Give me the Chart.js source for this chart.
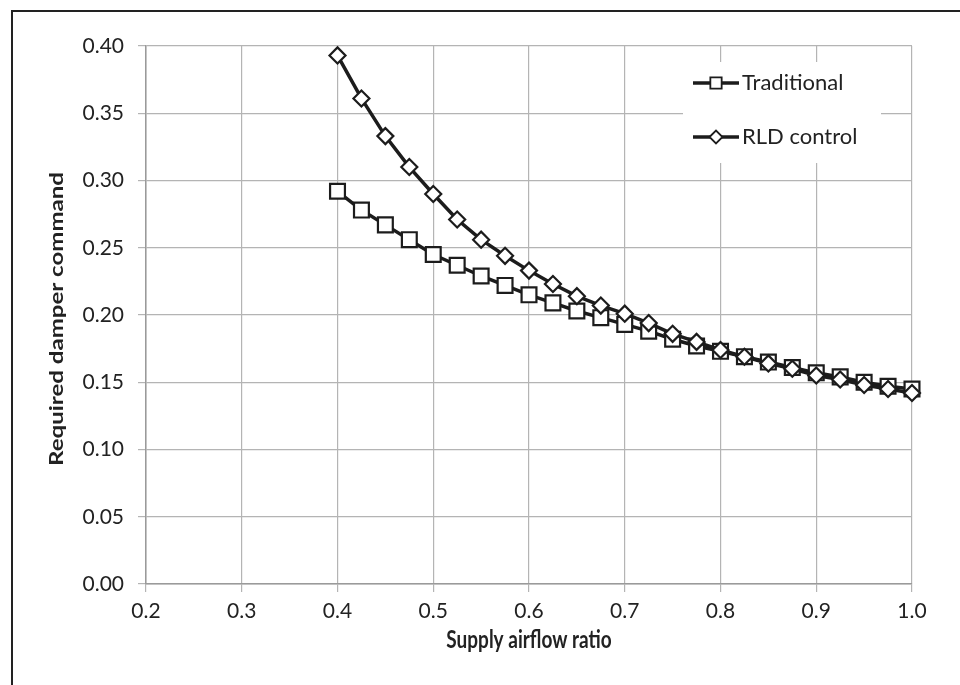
<!DOCTYPE html>
<html>
<head>
<meta charset="utf-8">
<script src="https://cdn.jsdelivr.net/npm/chart.js@4.4.1/dist/chart.umd.min.js"></script>
<style>
  html, body { margin: 0; padding: 0; background: #ffffff; }
  #wrap { width: 960px; height: 685px; position: relative; }
  canvas { display: block; }
</style>
</head>
<body>
<div id="wrap"><canvas id="c" width="960" height="685"></canvas></div>
<script>
// ---- Data ----
const airflowRatio = [0.4, 0.425, 0.45, 0.475, 0.5, 0.525, 0.55, 0.575, 0.6, 0.625, 0.65, 0.675, 0.7,
                      0.725, 0.75, 0.775, 0.8, 0.825, 0.85, 0.875, 0.9, 0.925, 0.95, 0.975, 1.0];
const traditional = [0.292, 0.278, 0.267, 0.256, 0.245, 0.237, 0.229, 0.222, 0.215, 0.209, 0.203, 0.198, 0.193,
                     0.188, 0.182, 0.177, 0.173, 0.169, 0.165, 0.161, 0.157, 0.154, 0.150, 0.147, 0.145];
const rldControl = [0.393, 0.361, 0.333, 0.310, 0.290, 0.271, 0.256, 0.244, 0.233, 0.223, 0.214, 0.207, 0.201,
                    0.194, 0.186, 0.180, 0.174, 0.169, 0.164, 0.160, 0.155, 0.152, 0.148, 0.145, 0.142];
const seriesNames = ["Traditional", "RLD control"];
const xTitle = "Supply airflow ratio";
const yTitle = "Required damper command";

const FONT = "Lato, 'Open Sans', sans-serif";
const INK = "#1c1c1c";
const GRID = "#b4b4b4";

function toPoints(xs, ys) { return xs.map((x, i) => ({ x: x, y: ys[i] })); }

const frame = {
  id: 'frame',
  beforeDraw(chart) {
    const ctx = chart.ctx;
    ctx.save();
    ctx.fillStyle = '#ffffff';
    ctx.fillRect(0, 0, chart.width, chart.height);
    ctx.strokeStyle = '#222222';
    ctx.lineWidth = 2;
    ctx.beginPath();
    ctx.moveTo(12, 700);
    ctx.lineTo(12, 11);
    ctx.lineTo(980, 11);
    ctx.stroke();
    ctx.restore();
  },
  afterDraw(chart) {
    const ctx = chart.ctx;
    const yScale = chart.scales.y;
    const xScale = chart.scales.x;
    // y-axis title, elongated along its length like the reference
    ctx.save();
    ctx.translate(57, (yScale.top + yScale.bottom) / 2 + 4);
    ctx.rotate(-Math.PI / 2);
    ctx.scale(1.3, 1);
    ctx.fillStyle = '#222222';
    ctx.font = "bold 18.5px " + FONT;
    ctx.textAlign = 'center';
    ctx.textBaseline = 'middle';
    ctx.fillText(yTitle, 0, 0);
    ctx.restore();
    // x-axis title, slightly taller glyphs like the reference
    ctx.save();
    ctx.translate((xScale.left + xScale.right) / 2, 640);
    ctx.scale(1, 1.3);
    ctx.fillStyle = '#222222';
    ctx.font = "bold 19px " + FONT;
    ctx.textAlign = 'center';
    ctx.textBaseline = 'middle';
    ctx.fillText(xTitle, 0, 0);
    ctx.restore();
  }
};

const insideLegend = {
  id: 'insideLegend',
  beforeDatasetsDraw(chart) {
    const ctx = chart.ctx;
    ctx.save();
    ctx.fillStyle = '#ffffff';
    ctx.fillRect(683, 62, 198, 101);
    const items = [
      { label: seriesNames[0], style: 'rect', r: 8, y: 83 },
      { label: seriesNames[1], style: 'rectRot', r: 6.5, y: 137 }
    ];
    items.forEach(it => {
      ctx.strokeStyle = INK;
      ctx.lineWidth = 3.5;
      ctx.beginPath();
      ctx.moveTo(693, it.y);
      ctx.lineTo(739, it.y);
      ctx.stroke();
      ctx.fillStyle = '#ffffff';
      ctx.strokeStyle = INK;
      ctx.lineWidth = 1.8;
      Chart.helpers.drawPoint(ctx, { pointStyle: it.style, radius: it.r, borderWidth: 1.8, rotation: 0 }, 716, it.y);
      ctx.fillStyle = '#222222';
      ctx.font = "22px " + FONT;
      ctx.textBaseline = 'middle';
      ctx.textAlign = 'left';
      ctx.fillText(it.label, 742, it.y);
    });
    ctx.restore();
  }
};

new Chart(document.getElementById('c'), {
  type: 'scatter',
  data: {
    datasets: [
      {
        label: seriesNames[0],
        data: toPoints(airflowRatio, traditional),
        showLine: true,
        clip: false,
        borderColor: INK,
        borderWidth: 3.5,
        pointStyle: 'rect',
        pointRadius: 10.5,
        pointHoverRadius: 10.5,
        pointBackgroundColor: '#ffffff',
        pointBorderColor: INK,
        pointBorderWidth: 2.2,
        order: 1
      },
      {
        label: seriesNames[1],
        data: toPoints(airflowRatio, rldControl),
        showLine: true,
        clip: false,
        borderColor: INK,
        borderWidth: 3.5,
        pointStyle: 'rectRot',
        pointRadius: 8,
        pointHoverRadius: 8,
        pointBackgroundColor: '#ffffff',
        pointBorderColor: INK,
        pointBorderWidth: 2.2,
        order: 0
      }
    ]
  },
  options: {
    responsive: false,
    animation: false,
    devicePixelRatio: 1,
    layout: { padding: { left: 45, top: 46, right: 48, bottom: 0 } },
    plugins: {
      legend: { display: false },
      tooltip: { enabled: false }
    },
    scales: {
      x: {
        type: 'linear',
        min: 0.2,
        max: 1.0,
        afterFit(axis) { axis.height = 101; },
        ticks: {
          stepSize: 0.1,
          color: '#222222',
          font: { family: FONT, size: 21 },
          padding: 7,
          callback: v => v.toFixed(1)
        },
        grid: { color: GRID, lineWidth: 1.2, tickLength: 8, drawTicks: true },
        border: { color: '#9a9a9a', width: 1.5 },
        title: { display: false }
      },
      y: {
        type: 'linear',
        min: 0,
        max: 0.4,
        afterFit(axis) { axis.width = 101; },
        ticks: {
          stepSize: 0.05,
          color: '#222222',
          font: { family: FONT, size: 21 },
          padding: 14,
          callback: v => v.toFixed(2)
        },
        grid: { color: GRID, lineWidth: 1.2, tickLength: 8, drawTicks: true },
        border: { color: '#9a9a9a', width: 1.5 },
        title: { display: false }
      }
    }
  },
  plugins: [frame, insideLegend]
});
</script>
</body>
</html>
